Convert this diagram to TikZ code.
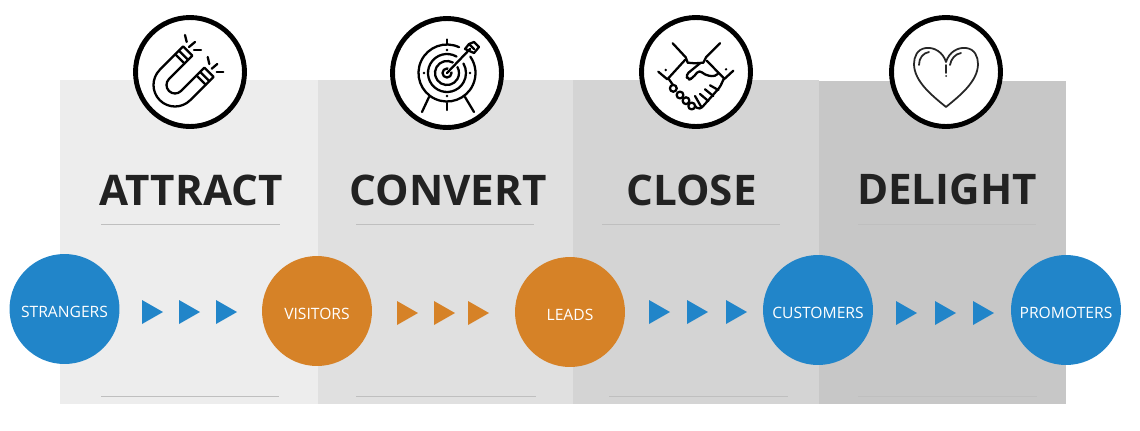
\documentclass[tikz,border=0pt]{standalone}
\usepackage{fontspec}
\setmainfont{Open Sans}
\usepackage{xcolor}
\definecolor{flowblue}{HTML}{2185C9}
\definecolor{floworange}{HTML}{D68227}
\definecolor{titlegray}{HTML}{222222}
\tikzset{
    stagenode/.style={circle,minimum size=2.2cm,inner sep=0pt,text=white,text height=9.6pt,text depth=0pt,font=\fontsize{8.9}{10}\selectfont},
    bluenode/.style={stagenode,fill=flowblue},
    orangenode/.style={stagenode,fill=floworange},
    titlenode/.style={text=titlegray,font=\fontsize{24}{28}\selectfont\bfseries,inner sep=0pt},
    iconring/.style={circle,draw=black,line width=2.8pt,fill=white,minimum size=2.18cm,inner sep=0pt},
    iconline/.style={line width=1.3pt,line cap=round,line join=round},
    rulerline/.style={draw=black!25,line width=0.45pt}
}
\begin{document}
\begin{tikzpicture}[x=0.02cm,y=-0.02cm]
    \useasboundingbox (0,0) rectangle (1140,430);

    \fill[black!7] (60,80) rectangle (318,404);
    \fill[black!12] (318,80) rectangle (573,404);
    \fill[black!17] (573,80) rectangle (819,404);
    \fill[black!22] (819,81) rectangle (1066,404);

    \draw[rulerline] (101,224) -- (280,224);
    \draw[rulerline] (356,224) -- (534,224);
    \draw[rulerline] (602,224) -- (780,224);
    \draw[rulerline] (858,224) -- (1036,224);
    \draw[rulerline] (101,396) -- (279,396);
    \draw[rulerline] (356,396) -- (536,396);
    \draw[rulerline] (609,396) -- (788,396);
    \draw[rulerline] (858,396) -- (1037,396);

    \node[titlenode] (attract) at (191,190) {ATTRACT};
    \node[titlenode] (convert) at (448,190) {CONVERT};
    \node[titlenode] (close) at (691.5,190) {CLOSE};
    \node[titlenode] (delight) at (947,189) {DELIGHT};

    \node[bluenode] (strangers) at (64.5,309) {STRANGERS};
    \node[orangenode] (visitors) at (317,311) {VISITORS};
    \node[orangenode] (leads) at (570,312) {LEADS};
    \node[bluenode] (customers) at (818,310) {CUSTOMERS};
    \node[bluenode] (promoters) at (1066,310) {PROMOTERS};

    \foreach \x in {142,179,216}
        \fill[flowblue] (\x,300) -- ++(21,12) -- ++(-21,12) -- cycle;
    \foreach \x in {397,434,468}
        \fill[floworange] (\x,301) -- ++(21,12) -- ++(-21,12) -- cycle;
    \foreach \x in {649,687,726}
        \fill[flowblue] (\x,300) -- ++(21,12) -- ++(-21,12) -- cycle;
    \foreach \x in {896,935,973}
        \fill[flowblue] (\x,301) -- ++(21,12) -- ++(-21,12) -- cycle;

    \node[iconring] (magnetring) at (190,72) {};
    \node[iconring] (targetring) at (447,73) {};
    \node[iconring] (handring) at (696,72) {};
    \node[iconring] (heartring) at (946,72) {};

    \begin{scope}[shift={(190,72)},yscale=-1,iconline]
        \begin{scope}[shift={(-15,-13)},rotate=45]
            \draw (-21.5,33) -- (-21.5,0) arc (180:360:21.5) -- (21.5,33) -- (8.5,33) -- (8.5,0) arc (0:-180:8.5) -- (-8.5,33) -- cycle;
            \draw (-21.5,22) -- (-8.5,22);
            \draw (-21.5,27) -- (-8.5,27);
            \draw (8.5,22) -- (21.5,22);
            \draw (8.5,27) -- (21.5,27);
        \end{scope}
        \draw (-5,37) -- (-3.3,30);
        \draw (5,30) -- (-1,25);
        \draw (11,22) -- (4,22);
        \draw (17.7,15) -- (19.3,8);
        \draw (27.3,8) -- (21.7,3.3);
        \draw (33.3,0) -- (26.7,0);
    \end{scope}

    \begin{scope}[shift={(447,73)},yscale=-1,iconline]
        \draw (65:28.5) arc (65:395:28.5);
        \draw (0,0) circle [radius=4.5];
        \draw (60:19) arc (60:390:19);
        \draw (60:12) arc (60:390:12);
        \draw[white,line width=2.5pt] (3,3) -- (17,18);
        \draw (0,0) -- (23,24);
        \draw (18,24) -- (22,29) -- (27,31) -- (32,26) -- (27,20) -- cycle;
        \draw (22,29) -- (27,24);
        \draw (0,33.5) -- (0,29);
        \draw (0,-30) -- (0,-37);
        \fill (0,23) circle [radius=1.4];
        \fill (0,-23) circle [radius=1.4];
        \fill (-23,0) circle [radius=1.4];
        \fill (23,0) circle [radius=1.4];
        \draw (-18,-24) -- (-25,-39);
        \draw (18,-24) -- (27,-39);
    \end{scope}

    \begin{scope}[shift={(696,72)},yscale=-1,iconline]
        \draw (-23.3,28.7) -- (-10.3,14.7) -- (-8.3,9.3) -- (-1,8.7) -- (7.3,9.3) -- (10,14.7) -- (24,28.7);
        \draw (-37.7,0.3) -- (-28.7,-7.3);
        \draw (37.3,1.3) -- (28,-7.3);
        \draw (-11,12) -- (-27.7,-6.3);
        \draw (10.7,11.3) -- (28,-6.3);
        \fill (-30.3,2) circle [radius=1.3];
        \fill (30,2.7) circle [radius=1.3];
        \draw[rounded corners=2pt] (4,8.7) -- (-10.3,-3) -- (-7.7,-8) -- (-3.7,-6.3) -- (3.3,2) -- (9,-3) -- (19,-4.7) -- (22.3,-1.3);
        \draw[rounded corners=1pt] (28,-6.3) -- (24,-15) -- (5.7,-35.7) -- (2,-37) -- (-1,-34);
        \draw (-27.7,-6.3) -- (-23,-13);
        \draw[fill=white] (-22.7,-16.3) circle [radius=3.4];
        \draw[fill=white] (-16,-23) circle [radius=3.4];
        \draw[fill=white] (-10,-28.7) circle [radius=3.4];
        \draw[fill=white] (-4.3,-34) circle [radius=3.4];
        \draw (14,-13.3) -- (22.3,-18);
        \draw (9,-17.3) -- (17.3,-24);
        \draw (4,-22) -- (12.3,-29);
        \draw (-1,-24) -- (5.7,-35.7);
    \end{scope}

    \begin{scope}[shift={(946,72)},yscale=-1,line width=1pt,line cap=round,line join=round]
        \draw[black!85] (0,10) .. controls (3,20) and (12,25) .. (20,24) .. controls (29,23) and (32,15) .. (32,8) .. controls (32,-10) and (12,-25) .. (0,-35) .. controls (-12,-25) and (-32,-10) .. (-32,8) .. controls (-32,15) and (-29,23) .. (-20,24) .. controls (-12,25) and (-3,20) .. (0,10);
        \draw[black!85] (-27,7) .. controls (-27,14) and (-23,19) .. (-17,20);
        \draw[black!85] (4,7) .. controls (5,13) and (9,18) .. (15,19);
        \draw[black!85] (0,7) -- (0,-1);
        \fill[black!85] (0,-4) circle [radius=1];
    \end{scope}
\end{tikzpicture}
\end{document}
